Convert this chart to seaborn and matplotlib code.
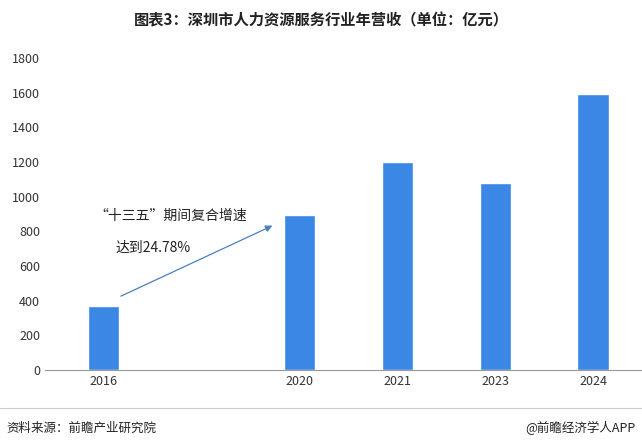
import matplotlib
matplotlib.use("Agg")
import matplotlib.pyplot as plt
import seaborn as sns
import pandas as pd

years = ["2016", "2020", "2021", "2023", "2024"]
values = [370, 893, 1203, 1077, 1595]
order = ["2016", " ", "2020", "2021", "2023", "2024"]

sns.set_style("white")
plt.rcParams['font.family'] = ['Noto Sans CJK SC', 'DejaVu Sans']

fig = plt.figure(figsize=(6.42, 4.46), dpi=100)
ax = fig.add_axes([0.07, 0.17, 0.93, 0.70])
df = pd.DataFrame({"year": years, "value": values})
sns.barplot(data=df, x="year", y="value", order=order, color="#3b87e6",
            width=0.32, saturation=1, ax=ax)
ax.set_xlim(-0.6, 5.5)
ax.set_ylim(0, 1800)
ax.set_yticks(range(0, 1801, 200))
ax.set_xlabel("")
ax.set_ylabel("")
ax.tick_params(axis="both", labelsize=9, colors="#333333", length=0)
for s in ["top", "right", "left"]:
    ax.spines[s].set_visible(False)
ax.spines["bottom"].set_color("#999999")

ax.annotate("", xy=(1.75, 840), xytext=(0.15, 420),
            arrowprops=dict(arrowstyle="-|>", color="#4a7fc0", lw=0.9))
ax.text(-0.1, 870, "“十三五”期间复合增速", fontsize=10, color="#222222")
ax.text(0.12, 680, "达到24.78%", fontsize=10, color="#222222")

fig.text(0.5, 0.955, "图表3：深圳市人力资源服务行业年营收（单位：亿元）", ha="center",
         va="center", fontsize=11, fontweight="bold", color="#222222")
fig.text(0.01, 0.04, "资料来源：前瞻产业研究院", fontsize=9, color="#222222", va="center")
fig.text(0.99, 0.04, "@前瞻经济学人APP", fontsize=9, color="#222222", va="center", ha="right")
fig.lines.append(plt.Line2D([0, 1], [0.085, 0.085], color="#cccccc", lw=0.8, transform=fig.transFigure))
fig.savefig("out.png", dpi=100)
